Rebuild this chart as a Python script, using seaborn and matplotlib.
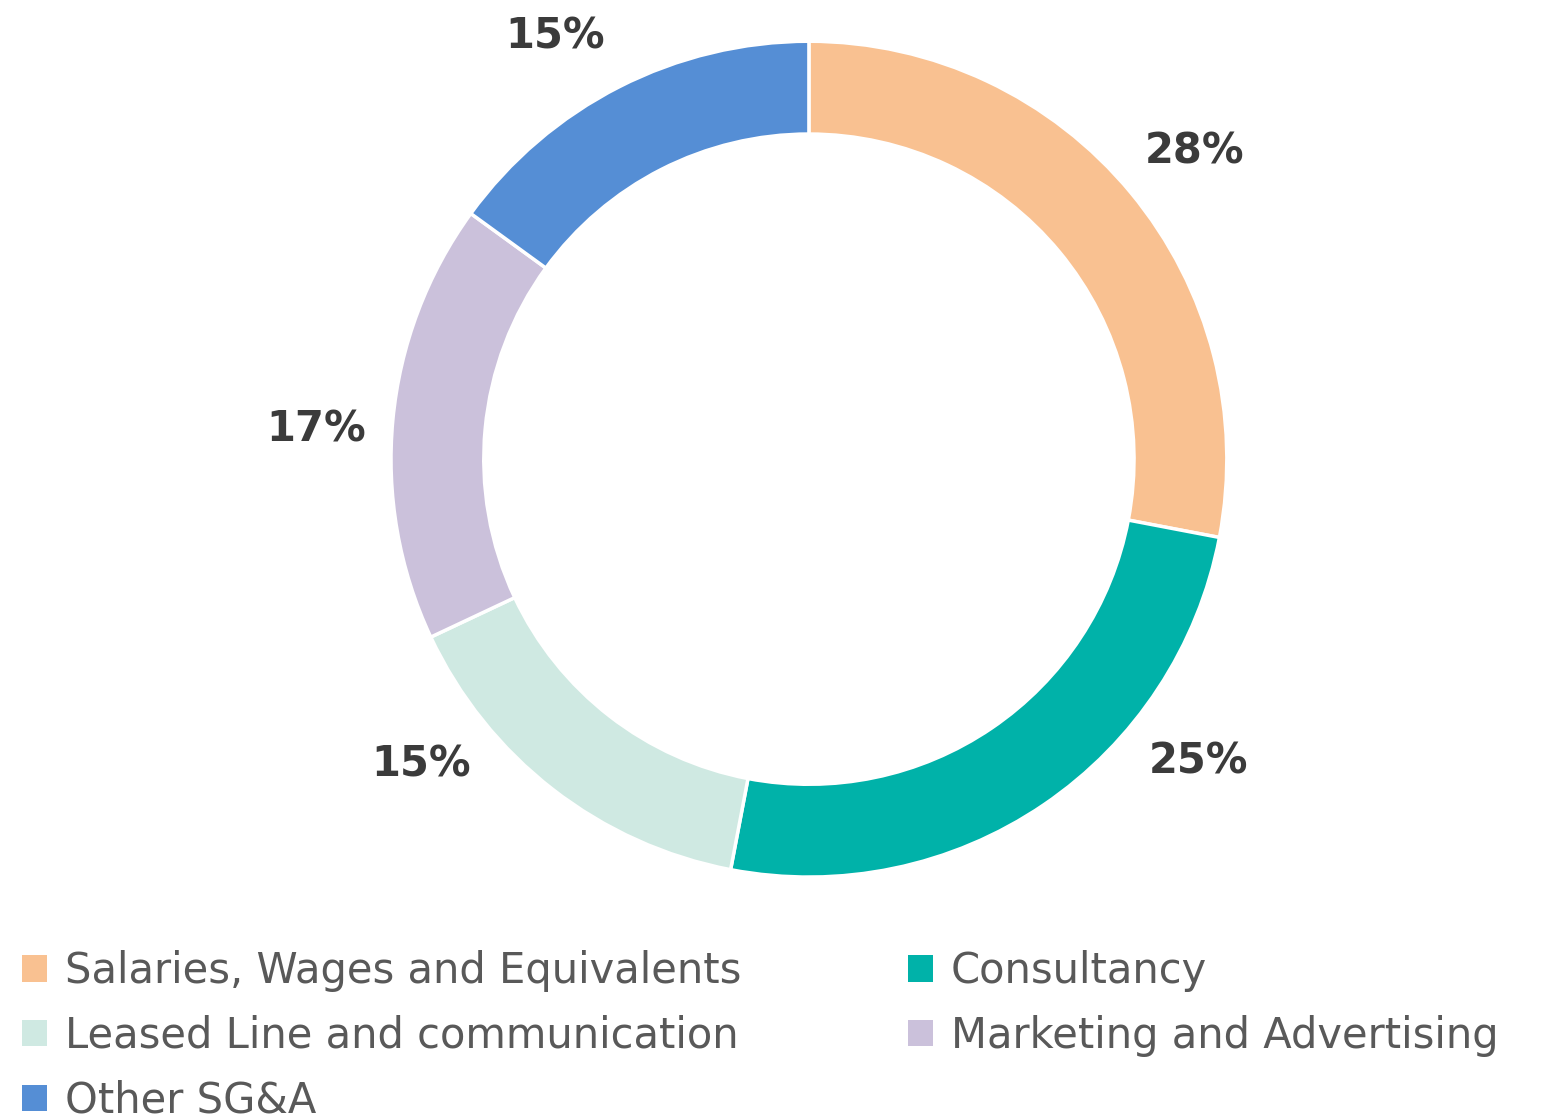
import numpy as np
import matplotlib
matplotlib.use('Agg')
import matplotlib.pyplot as plt
import seaborn as sns
from matplotlib.patches import Patch

# data
categories = ['Salaries, Wages and Equivalents', 'Consultancy',
              'Leased Line and communication', 'Marketing and Advertising',
              'Other SG&A']
shares = [28, 25, 15, 17, 15]
colors = sns.color_palette(['#F9C191', '#00B2A9', '#CFE9E2', '#CBC1DB', '#558ED5'])

sns.set_theme(style='white')
plt.rcParams['font.family'] = ['DejaVu Sans']

fig = plt.figure(figsize=(15.55, 11.15), dpi=100)
# square axes, donut centre near (809, 459) px
ax = fig.add_axes([0.1842, 0.1197, 0.672, 0.937])

wedges, texts, autotexts = ax.pie(
    shares, colors=colors, startangle=90, counterclock=False,
    autopct=lambda p: f'{p:.0f}%', pctdistance=1.18,
    wedgeprops=dict(width=0.222, edgecolor='white', linewidth=2.5),
    textprops=dict(fontsize=30, fontweight='bold', color='#3b3b3b'))

# nudge labels the way the original tool placed them (degrees)
nudge = [-1, 18, -14, 2, 4]
for w, t, d in zip(wedges, autotexts, nudge):
    ang = np.deg2rad((w.theta1 + w.theta2) / 2 + d)
    t.set_position((1.18 * np.cos(ang), 1.18 * np.sin(ang)))
    t.set_ha('center')
    t.set_va('center')

ax.set_xlim(-1.25, 1.25)
ax.set_ylim(-1.25, 1.25)
ax.set_aspect('equal')
ax.axis('off')

# legend, row-major order -> column-major for matplotlib
order = [0, 2, 4, 1, 3]
handles = [Patch(facecolor=colors[i], edgecolor='none') for i in order]
labels = [categories[i] for i in order]
fig.legend(handles, labels, ncol=2, loc='upper left',
           bbox_to_anchor=(22 / 1555, 0.148), frameon=False,
           borderpad=0, borderaxespad=0,
           fontsize=30, labelcolor='#595959',
           handlelength=0.6, handleheight=0.6, handletextpad=0.43,
           labelspacing=0.55, columnspacing=4.0)

fig.savefig('out.png', dpi=100, facecolor='white')
